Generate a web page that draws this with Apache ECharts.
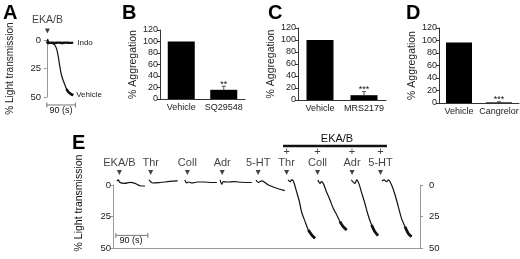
<!DOCTYPE html>
<html>
<head>
<meta charset="utf-8">
<script src="https://cdn.jsdelivr.net/npm/echarts/dist/echarts.min.js"></script>
<style>
  html, body { margin: 0; padding: 0; background: #fff; }
  #chart { width: 520px; height: 259px; }
</style>
</head>
<body>
<div id="chart"></div>
<script>
// ---- data ----
// panel A: light transmission traces, [time (s), % light transmission]
var traceVehicleA = [[0, 1.5], [3, -0.5], [6, 2], [15, 2.8], [25, 4.4], [31, 8], [36, 14.6], [41, 23.4], [46, 30.7], [52, 36], [57, 39.5], [62, 43], [67, 45.4], [75, 47.2], [83, 48.4]];
var traceIndoA = [[0, 1.5], [4, 2.8], [12, 2.3], [24, 2.6], [36, 2.3], [48, 2.6], [60, 2.3], [72, 2.5], [83, 2.3]];
var addTimeA = 2;

// panels B, C, D: % aggregation
var catsB = ["Vehicle", "SQ29548"];
var aggB = [100, 16];
var errB = [0, 6];
var sigB = ["", "**"];

var catsC = ["Vehicle", "MRS2179"];
var aggC = [100, 8];
var errC = [0, 6];
var sigC = ["", "***"];

var catsD = ["Vehicle", "Cangrelor"];
var aggD = [97, 1];
var errD = [0, 1];
var sigD = ["", "***"];

// panel E: agonists, time of addition on the recording (s), EKA/B pretreatment
var agonistsE = ["EKA/B", "Thr", "Coll", "Adr", "5-HT", "Thr", "Coll", "Adr", "5-HT"];
var withEKA = [0, 0, 0, 0, 0, 1, 1, 1, 1];
var addTimesE = [18, 106, 209, 307, 408, 488, 575, 672, 752];
var traceStartE = [11, 101, 202, 301, 402, 492, 576, 670, 756];
// traces, [time from trace start (s), % light transmission]
var tracesE = [
  [[0, -3.2], [4, -4], [8, -2.1], [22, -1.3], [37, -2.1], [51, -1.3], [65, 0.6], [79, 0.8]],
  [[0, -4], [5, -2.6], [10, -1.6], [31, -2], [59, -2.8], [81, -3.2]],
  [[0, -4], [5, -1.6], [10, -2.4], [20, -1.6], [35, -2.4], [55, -2.4], [75, -2], [90, -2]],
  [[0, -4], [5, -0.6], [9, -2.6], [20, -2.4], [40, -2.6], [60, -2.2], [80, -2], [89, -2]],
  [[0, -4], [6, -2.1], [16, -3.2], [35, 0], [58, 2.6], [81, 4.5]],
  [[0, -4], [6, -2.6], [10, -4], [15, -3.2], [24, 5.3], [32, 13.3], [38, 21.2], [48, 29.1], [57, 35.7], [67, 39.7], [76, 42.3]],
  [[0, -4], [6, -1.3], [10, -2.6], [15, -1.3], [24, 5.3], [34, 11.9], [43, 18.5], [53, 23.8], [62, 29.1], [71, 33.1], [81, 35.7]],
  [[0, -4], [10, -1.3], [15, -4], [21, -1.3], [28, 5.3], [38, 14.5], [47, 23.8], [57, 31.7], [66, 37], [75, 40.2]],
  [[0, -3.2], [6, -4], [13, -2.6], [18, -4], [27, 0], [37, 7.9], [46, 17.2], [55, 26.5], [65, 33.1], [74, 38.4], [83, 41]]
];
var ekaSpanE = [478, 770];
var scaleBarSec = 90;
var transTicks = [0, 25, 50];
var aggTicks = [0, 20, 40, 60, 80, 100, 120];

// ---- chart ----
var FONT = "Liberation Sans";
var INK = "#111";
var GREY = "#999";

var chartDom = document.getElementById("chart");
var myChart = echarts.init(chartDom, null, { renderer: "canvas" });

function transAxis(gridIndex, position, name, gap) {
  return {
    type: "value", gridIndex: gridIndex, position: position, inverse: true,
    min: transTicks[0], max: transTicks[transTicks.length - 1], interval: transTicks[1] - transTicks[0],
    axisLine: { show: true, lineStyle: { color: GREY, width: 1 } },
    axisTick: { show: true, length: 3, lineStyle: { color: GREY } },
    axisLabel: { fontFamily: FONT, fontSize: 9.5, color: "#222", margin: 2 },
    splitLine: { show: false },
    name: name, nameLocation: "middle", nameRotate: 90, nameGap: gap,
    nameTextStyle: { fontFamily: FONT, fontSize: 10, color: "#222" }
  };
}

function aggAxis(gridIndex, gap) {
  return {
    type: "value", gridIndex: gridIndex,
    min: aggTicks[0], max: aggTicks[aggTicks.length - 1], interval: aggTicks[1] - aggTicks[0],
    axisLine: { show: true, lineStyle: { color: "#333", width: 1 } },
    axisTick: { show: true, length: 3, lineStyle: { color: "#333" } },
    axisLabel: { fontFamily: FONT, fontSize: 9, color: "#222", margin: 2 },
    splitLine: { show: false },
    name: "% Aggregation", nameLocation: "middle", nameRotate: 90, nameGap: gap,
    nameTextStyle: { fontFamily: FONT, fontSize: 10.5, color: "#222" }
  };
}

function catAxis(gridIndex, cats, margin) {
  return {
    type: "category", gridIndex: gridIndex, data: cats,
    axisLine: { show: true, lineStyle: { color: "#333", width: 1 } },
    axisTick: { show: false },
    axisLabel: { fontFamily: FONT, fontSize: 9, color: "#222", margin: margin, interval: 0 }
  };
}

function barSeries(idx, vals, width) {
  return {
    type: "bar", xAxisIndex: idx, yAxisIndex: idx, data: vals, barWidth: width,
    itemStyle: { color: "#000" }, silent: true
  };
}

function errSeries(idx, vals, errs, sigs) {
  return {
    type: "custom", xAxisIndex: idx, yAxisIndex: idx,
    data: vals.map(function (v, i) { return [i, v, errs[i]]; }),
    renderItem: function (params, api) {
      var i = api.value(0), v = api.value(1), e = api.value(2);
      var p0 = api.coord([i, v]);
      var p1 = api.coord([i, v + e]);
      var kids = [];
      if (e > 0) {
        kids.push({ type: "line", shape: { x1: p0[0], y1: p0[1], x2: p1[0], y2: p1[1] }, style: { stroke: "#555", lineWidth: 1 } });
        kids.push({ type: "line", shape: { x1: p1[0] - 2, y1: p1[1], x2: p1[0] + 2, y2: p1[1] }, style: { stroke: "#555", lineWidth: 1 } });
      }
      var s = sigs[params.dataIndex];
      if (s) {
        kids.push({ type: "text", style: { text: s, x: p1[0], y: p1[1] - 2, align: "center", verticalAlign: "middle", fontFamily: FONT, fontSize: 9, fill: INK } });
      }
      return { type: "group", children: kids };
    }
  };
}

function lineSeries(idx, data, width, extra) {
  var s = {
    type: "line", xAxisIndex: idx, yAxisIndex: idx, data: data,
    showSymbol: false, symbol: "none", smooth: 0.3, clip: false, silent: true,
    lineStyle: { color: INK, width: width }, z: 3
  };
  if (extra) for (var k in extra) s[k] = extra[k];
  return s;
}

var series = [];

// panel A traces
series.push(lineSeries(0, traceVehicleA, 1.2, {
  name: "Vehicle",
  endLabel: { show: true, formatter: "{a}", fontFamily: FONT, fontSize: 8, color: "#222", distance: 3 }
}));
series.push(lineSeries(0, traceVehicleA.slice(-4), 2.6));
series.push(lineSeries(0, traceIndoA, 2.4, {
  name: "Indo",
  endLabel: { show: true, formatter: "{a}", fontFamily: FONT, fontSize: 8, color: "#222", distance: 4 }
}));
series.push({
  type: "scatter", xAxisIndex: 0, yAxisIndex: 0, clip: false, silent: true,
  data: [[addTimeA, -8]], symbol: "triangle", symbolRotate: 180, symbolSize: [5, 5],
  itemStyle: { color: INK },
  label: { show: true, position: "top", distance: 3, formatter: "EKA/B", fontFamily: FONT, fontSize: 10.5, color: INK }
});
series.push(lineSeries(0, [[0, 57], [scaleBarSec, 57]], 1, {
  smooth: false, symbol: "rect", symbolSize: [1, 5], showSymbol: true,
  lineStyle: { color: "#777", width: 1 }, itemStyle: { color: "#777" }
}));

// panels B-D
series.push(barSeries(1, aggB, 27), errSeries(1, aggB, errB, sigB));
series.push(barSeries(2, aggC, 27), errSeries(2, aggC, errC, sigC));
series.push(barSeries(3, aggD, 26), errSeries(3, aggD, errD, sigD));

// panel E traces
tracesE.forEach(function (tr, i) {
  var pts = tr.map(function (p) { return [traceStartE[i] + p[0], p[1]]; });
  series.push(lineSeries(4, pts, 1.2));
  if (withEKA[i]) series.push(lineSeries(4, pts.slice(-3), 2.8));
});
series.push({
  type: "scatter", xAxisIndex: 4, yAxisIndex: 4, clip: false, silent: true,
  data: addTimesE.map(function (t) { return [t, -10]; }),
  symbol: "triangle", symbolRotate: 180, symbolSize: [5, 5], itemStyle: { color: INK },
  label: {
    show: true, position: "top", distance: 1, lineHeight: 11.5,
    fontFamily: FONT, fontSize: 11, color: INK,
    formatter: function (p) { return (withEKA[p.dataIndex] ? "+\n" : "") + agonistsE[p.dataIndex]; }
  }
});
series.push(lineSeries(4, [[ekaSpanE[0], -31], [ekaSpanE[1], -31]], 2.4, { smooth: false }));
series.push(lineSeries(4, [[8, 40], [8 + scaleBarSec, 40]], 1, {
  smooth: false, symbol: "rect", symbolSize: [1, 5], showSymbol: true,
  lineStyle: { color: "#777", width: 1 }, itemStyle: { color: "#777" }
}));

var letter = function (t, x, y) {
  return { type: "text", left: x, top: y, style: { text: t, fontFamily: FONT, fontWeight: "bold", fontSize: 20, fill: "#000" } };
};
var note = function (t, x, y, size, rot) {
  return { type: "text", x: x, y: y, rotation: rot || 0, style: { text: t, fontFamily: FONT, fontSize: size, fill: INK, align: "center", verticalAlign: "middle" } };
};

var gridBase = { outerBoundsMode: "none", containLabel: false };
function grid(l, t, w, h) {
  return Object.assign({ left: l, top: t, width: w, height: h }, gridBase);
}

var option = {
  animation: false,
  backgroundColor: "#fff",
  grid: [
    grid(43, 40, 35, 57),
    grid(160, 30, 85, 69),
    grid(298, 28, 88, 72),
    grid(439, 28, 80, 75),
    grid(113, 185, 307, 63),
    grid(420, 185, 7, 63)
  ],
  xAxis: [
    { type: "value", gridIndex: 0, min: -12, max: 98, show: false },
    catAxis(1, catsB, 4),
    catAxis(2, catsC, 4),
    catAxis(3, catsD, 4),
    { type: "value", gridIndex: 4, min: 0, max: 863, axisLine: { show: true, onZero: false, lineStyle: { color: GREY } }, axisTick: { show: false }, axisLabel: { show: false }, splitLine: { show: false } },
    { type: "value", gridIndex: 5, show: false }
  ],
  yAxis: [
    transAxis(0, "left", "% Light transmission", 28),
    aggAxis(1, 18),
    aggAxis(2, 15),
    aggAxis(3, 9),
    transAxis(4, "left", "", 0),
    transAxis(5, "right", "", 0)
  ],
  series: series,
  graphic: [
    letter("A", 3, 3), letter("B", 122, 3), letter("C", 268, 3), letter("D", 406, 3), letter("E", 72, 133),
    note("90 (s)", 61, 111, 9),
    note("90 (s)", 131, 241, 9),
    note("EKA/B", 337, 139, 11),
    note("% Light transmission", 79, 203, 10.5, Math.PI / 2)
  ]
};

if (option && typeof option === "object") {
  myChart.setOption(option);
}
</script>
</body>
</html>
